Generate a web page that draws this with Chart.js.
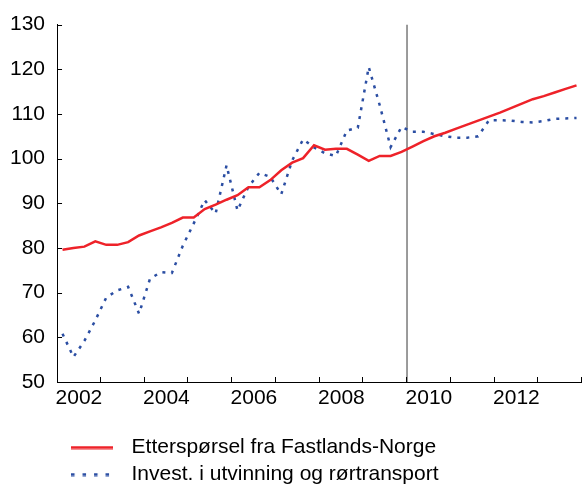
<!DOCTYPE html>
<html lang="no">
<head>
<meta charset="UTF-8">
<title>Etterspørsel og petroleumsinvesteringer</title>
<style>
    body { margin: 0; background: #fff; }
    #wrap { width: 582px; height: 486px; }
</style>
</head>
<body>
<div id="wrap"><canvas id="chart"></canvas></div>
<script src="https://cdn.jsdelivr.net/npm/chart.js@4.4.0/dist/chart.umd.min.js"></script>
<script>
    // Kvartalstall, 2002K1 - 2013K4. Fra 2010 er det anslag.
    const firstYear = 2002;
    const lastYear = 2014;
    const forecastStart = 2010;
    const tickLabels = ['2002', '2004', '2006', '2008', '2010', '2012'];
    const yTicks = [50, 60, 70, 80, 90, 100, 110, 120, 130];

    const fastlandsNorge = [
        79.6, 80.0, 80.3, 81.5,
        80.7, 80.7, 81.3, 82.8,
        83.7, 84.6, 85.6, 86.8,
        86.8, 88.7, 89.7, 90.8,
        91.8, 93.6, 93.6, 95.2,
        97.4, 99.1, 100.1, 103.0,
        102.0, 102.2, 102.2, 100.9,
        99.5, 100.6, 100.6, 101.5,
        102.7, 103.9, 105.0, 105.8,
        106.7, 107.6, 108.5, 109.4,
        110.3, 111.3, 112.3, 113.3,
        114.0, 114.8, 115.6, 116.4
    ];
    const petroleum = [
        60.8, 55.6, 59.2, 63.8,
        68.9, 70.5, 71.3, 65.3,
        73.1, 74.6, 74.4, 80.5,
        85.5, 90.7, 87.7, 98.5,
        88.4, 93.7, 96.8, 95.9,
        92.0, 99.6, 104.3, 102.5,
        101.2, 100.6, 106.3, 106.9,
        120.5, 112.0, 102.6, 107.1,
        106.0, 106.0, 105.5, 105.0,
        104.7, 104.7, 105.0, 108.6,
        108.6, 108.5, 108.2, 108.1,
        108.4, 108.9, 109.0, 109.1
    ];

    const red = '#ee2229';
    const blue = '#2b4ea3';
    const font = { family: 'Liberation Sans, Arial, sans-serif', size: 21 };

    // hvert kvartal plasseres midt i kvartalet
    const quarterPos = fastlandsNorge.map((_, i) => firstYear + (i + 0.5) / 4);
    const points = (values) => values.map((v, i) => ({ x: quarterPos[i], y: v }));

    // liten strek til forklaringen
    function swatch(color, dash) {
        const c = document.createElement('canvas');
        c.width = 42;
        c.height = 4;
        const g = c.getContext('2d');
        g.strokeStyle = color;
        g.lineWidth = 3;
        g.setLineDash(dash);
        g.beginPath();
        g.moveTo(0, 2);
        g.lineTo(42, 2);
        g.stroke();
        return c;
    }

    // tickmerker som peker inn i plottet
    const innerTicks = {
        id: 'innerTicks',
        afterDraw(chart) {
            const { ctx, chartArea, scales } = chart;
            ctx.save();
            ctx.strokeStyle = '#000';
            ctx.lineWidth = 1;
            ctx.beginPath();
            for (let yr = firstYear + 1; yr <= lastYear; yr++) {
                const px = Math.round(scales.x.getPixelForValue(yr)) - 0.5;
                ctx.moveTo(px, chartArea.bottom);
                ctx.lineTo(px, chartArea.bottom - 5);
            }
            scales.y.ticks.forEach(t => {
                const py = Math.round(scales.y.getPixelForValue(t.value)) + 0.5;
                ctx.moveTo(chartArea.left, py);
                ctx.lineTo(chartArea.left + 5, py);
            });
            ctx.stroke();
            ctx.restore();
        }
    };

    new Chart(document.getElementById('chart'), {
        type: 'line',
        data: {
            datasets: [{
                label: 'Etterspørsel fra Fastlands-Norge',
                data: points(fastlandsNorge),
                borderColor: red,
                backgroundColor: red,
                borderWidth: 2.5,
                pointRadius: 0,
                pointStyle: swatch(red, []),
                tension: 0
            }, {
                label: 'Invest. i utvinning og rørtransport',
                data: points(petroleum),
                borderColor: blue,
                backgroundColor: blue,
                borderWidth: 2.5,
                borderDash: [3, 6],
                pointRadius: 0,
                pointStyle: swatch(blue, [3.5, 8]),
                tension: 0
            }, {
                label: 'skille',
                data: [{ x: forecastStart, y: yTicks[0] }, { x: forecastStart, y: yTicks[yTicks.length - 1] }],
                borderColor: '#7a7a7a',
                borderWidth: 1.5,
                pointRadius: 0
            }]
        },
        options: {
            responsive: true,
            maintainAspectRatio: false,
            animation: false,
            layout: { padding: { top: 24, left: -2, right: 0, bottom: -9 } },
            plugins: {
                tooltip: { enabled: false },
                legend: {
                    position: 'bottom',
                    align: 'start',
                    fullSize: false,
                    labels: {
                        usePointStyle: true,
                        pointStyleWidth: 58,
                        padding: 6,
                        color: '#000',
                        font: font,
                        filter: item => item.datasetIndex < 2
                    }
                }
            },
            scales: {
                x: {
                    type: 'linear',
                    min: firstYear,
                    max: lastYear,
                    grid: { display: false, drawTicks: false },
                    border: { color: '#000', width: 1 },
                    afterBuildTicks: scale => {
                        scale.ticks = tickLabels.map(s => ({ value: Number(s) + 0.5 }));
                    },
                    afterFit: scale => { scale.height = 49; },
                    ticks: {
                        color: '#000',
                        font: font,
                        padding: 4,
                        maxRotation: 0,
                        autoSkip: false,
                        callback: (v, i) => tickLabels[i]
                    }
                },
                y: {
                    min: yTicks[0],
                    max: yTicks[yTicks.length - 1],
                    grid: { display: false, drawTicks: false },
                    border: { color: '#000', width: 1 },
                    afterBuildTicks: scale => {
                        scale.ticks = yTicks.map(v => ({ value: v }));
                    },
                    ticks: {
                        color: '#000',
                        font: font,
                        padding: 12
                    }
                }
            }
        },
        plugins: [innerTicks]
    });
</script>
</body>
</html>
